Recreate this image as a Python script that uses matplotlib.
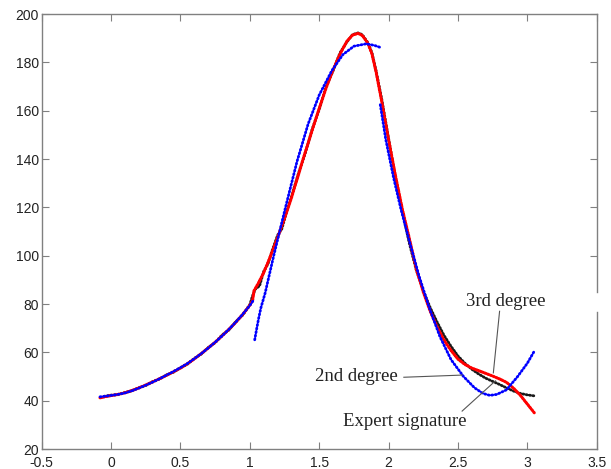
import matplotlib
matplotlib.use("Agg")
import matplotlib.pyplot as plt
from matplotlib.lines import Line2D

# ---- data ----
expert_x = [-0.05, 0.0, 0.05, 0.1, 0.15, 0.2, 0.25, 0.3, 0.35, 0.4, 0.45, 0.5, 0.55, 0.6, 0.65, 0.7,
            0.75, 0.8, 0.85, 0.9, 0.95, 1.0, 1.02, 1.04, 1.07, 1.1, 1.13, 1.16, 1.2, 1.23, 1.27, 1.3,
            1.35, 1.4, 1.45, 1.5, 1.55, 1.6, 1.65, 1.7, 1.74, 1.78, 1.81, 1.85, 1.88, 1.91, 1.95, 2.0,
            2.05, 2.1, 2.15, 2.2, 2.25, 2.3, 2.35, 2.4, 2.45, 2.5, 2.55, 2.6, 2.65, 2.7, 2.75, 2.8,
            2.85, 2.9, 2.95, 3.0, 3.05]
expert_y = [41.8, 42.3, 42.5, 43.4, 44.1, 45.4, 46.3, 47.9, 49.0, 50.7, 51.8, 53.6, 55.1, 57.5, 59.3, 62.0,
            64.0, 67.2, 69.3, 72.8, 75.5, 79.8, 83.5, 86.2, 87.5, 93.5, 96.5, 102.0, 108.5, 111.0, 119.0, 124.5,
            134.0, 142.5, 152.5, 160.5, 170.0, 176.5, 184.0, 188.5, 191.5, 192.2, 191.5, 188.2, 184.0, 176.5, 165.0, 148.5,
            132.0, 118.0, 105.0, 94.0, 85.5, 78.5, 72.5, 67.0, 62.5, 58.5, 55.5, 53.0, 51.0, 49.3, 48.0, 46.7,
            45.3, 44.0, 43.0, 42.4, 42.0]

third_x = [-0.08, -0.02, 0.05, 0.1, 0.15, 0.2, 0.25, 0.3, 0.35, 0.4, 0.45, 0.5, 0.55, 0.6, 0.65, 0.7,
           0.75, 0.8, 0.85, 0.9, 0.95, 1.0, 1.02, 1.03, 1.06, 1.1, 1.15, 1.2, 1.25, 1.3, 1.35, 1.4,
           1.45, 1.5, 1.55, 1.6, 1.65, 1.7, 1.74, 1.78, 1.81, 1.85, 1.88, 1.91, 1.95, 2.0, 2.05, 2.1,
           2.15, 2.2, 2.25, 2.3, 2.35, 2.4, 2.45, 2.5, 2.55, 2.6, 2.65, 2.7, 2.75, 2.8, 2.85, 2.9,
           2.95, 3.0, 3.05]
third_y = [41.2, 41.9, 42.6, 43.3, 44.2, 45.3, 46.5, 47.8, 49.1, 50.5, 52.0, 53.5, 55.3, 57.3, 59.5, 61.8,
           64.2, 66.8, 69.6, 72.5, 75.8, 79.5, 81.5, 85.5, 88.5, 93.0, 100.0, 107.5, 115.5, 124.0, 133.5, 143.0,
           152.0, 161.0, 169.5, 177.0, 183.5, 188.8, 191.3, 192.0, 191.2, 188.0, 183.5, 176.0, 164.0, 148.0, 133.0, 119.0,
           107.0, 94.5, 85.0, 77.0, 70.5, 65.0, 60.8, 57.2, 55.0, 53.5, 52.4, 51.3, 50.2, 49.0, 47.6, 45.2,
           42.2, 38.6, 35.0]

second_x1 = [-0.08, -0.02, 0.05, 0.1, 0.15, 0.2, 0.25, 0.3, 0.35, 0.4, 0.45, 0.5, 0.55, 0.6, 0.65, 0.7,
             0.75, 0.8, 0.85, 0.9, 0.95, 1.0, 1.025]
second_y1 = [41.6, 42.0, 42.6, 43.2, 44.1, 45.2, 46.4, 47.7, 49.1, 50.6, 52.1, 53.7, 55.4, 57.4, 59.5, 61.8,
             64.2, 66.8, 69.6, 72.6, 75.9, 79.4, 81.5]
second_x2 = [1.035, 1.05, 1.065, 1.08, 1.11, 1.14, 1.17, 1.21, 1.27, 1.34, 1.42, 1.5, 1.59, 1.67, 1.75,
             1.84, 1.9, 1.94]
second_y2 = [65.2, 70.0, 74.5, 78.5, 84.5, 92.0, 99.5, 109.0, 123.0, 139.0, 154.5, 166.5, 176.5, 183.2, 186.7,
             187.7, 187.0, 186.2]
second_x3 = [1.94, 1.98, 2.035, 2.09, 2.15, 2.22, 2.29, 2.37, 2.45, 2.54, 2.62, 2.68, 2.73, 2.78, 2.85,
             2.93, 3.0, 3.05]
second_y3 = [162.5, 148.0, 132.5, 119.0, 106.0, 91.5, 79.0, 66.5, 57.0, 50.0, 45.3, 43.0, 42.2, 42.6, 44.5,
             50.0, 55.5, 60.5]

x_ticks = [-0.5, 0, 0.5, 1, 1.5, 2, 2.5, 3, 3.5]
x_tick_labels = ["-0.5", "0", "0.5", "1", "1.5", "2", "2.5", "3", "3.5"]
y_ticks = [20, 40, 60, 80, 100, 120, 140, 160, 180, 200]
y_tick_labels = ["20", "40", "60", "80", "100", "120", "140", "160", "180", "200"]

# annotations: (text, text position, line start, line end)
annotations = [
    ("3rd degree", (2.56, 81.0), (2.80, 77.0), (2.755, 51.5)),
    ("2nd degree", (1.47, 50.0), (2.11, 49.7), (2.53, 50.6)),
    ("Expert signature", (1.67, 31.5), (2.53, 35.7), (2.77, 48.2)),
]

fig = plt.figure(figsize=(6.11, 4.69), dpi=100)
ax = fig.add_axes([0.0683, 0.0426, 0.9083, 0.9274])

dots = (0, (0.4, 0.9))
ax.plot(expert_x, expert_y, color="#1a1a1a", lw=2.0, linestyle=(0, (0.4, 0.8)),
        dash_capstyle="round", zorder=2)
ax.plot(third_x, third_y, color="#ff0000", lw=2.2, linestyle=(0, (0.4, 0.6)),
        dash_capstyle="round", zorder=3)
for bx, by in [(second_x1, second_y1), (second_x2, second_y2), (second_x3, second_y3)]:
    ax.plot(bx, by, color="#0000ff", lw=2.0, linestyle=dots, dash_capstyle="round", zorder=4)

serif = ["Liberation Serif", "DejaVu Serif"]
for text, tpos, lstart, lend in annotations:
    ax.text(tpos[0], tpos[1], text, family=serif, fontsize=13.5, color="#222222",
            ha="left", va="center", zorder=5)
    ax.plot([lstart[0], lend[0]], [lstart[1], lend[1]], color="#555555", lw=0.8, zorder=5)

ax.set_xlim(-0.5, 3.5)
ax.set_ylim(20, 200)
ax.set_xticks(x_ticks)
ax.set_xticklabels(x_tick_labels)
ax.set_yticks(y_ticks)
ax.set_yticklabels(y_tick_labels)
for lab in ax.get_xticklabels() + ax.get_yticklabels():
    lab.set_family(["Liberation Sans", "DejaVu Sans"])
    lab.set_fontsize(10)
    lab.set_color("#222222")

ax.tick_params(direction="in", length=5, width=0.8, color="#808080",
               top=True, right=True)
ax.tick_params(axis="x", pad=5)
ax.tick_params(axis="y", pad=2)
for s in ["left", "bottom", "top"]:
    ax.spines[s].set_color("#808080")
    ax.spines[s].set_linewidth(1.0)
ax.spines["right"].set_visible(False)
# right frame edge with a small gap as in the reference
for y0, y1 in [(0.0, 0.315), (0.361, 1.0)]:
    ax.add_line(Line2D([1, 1], [y0, y1], transform=ax.transAxes, color="#808080",
                       lw=1.0, clip_on=False))
# right-side tick at 80 falls into the gap
ax.yaxis.get_major_ticks()[3].tick2line.set_visible(False)

fig.savefig("out.png", dpi=100)
